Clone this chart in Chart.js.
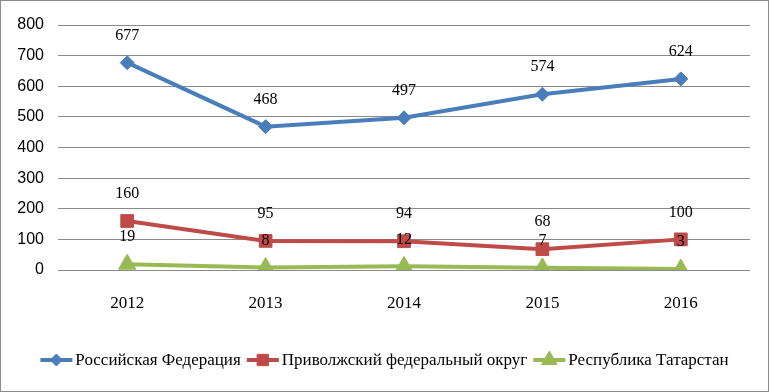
<!DOCTYPE html>
<html>
<head>
<meta charset="utf-8">
<script src="https://cdn.jsdelivr.net/npm/chart.js@4.4.0/dist/chart.umd.min.js"></script>
<style>
  html, body { margin: 0; padding: 0; background: #fff; }
  #wrap { width: 769px; height: 392px; position: relative; }
</style>
</head>
<body>
<div id="wrap"><canvas id="myChart" width="769" height="392"></canvas></div>
<script>
// data
const years = ['2012', '2013', '2014', '2015', '2016'];
const russia = [677, 468, 497, 574, 624];
const volga = [160, 95, 94, 68, 100];
const tatarstan = [19, 8, 12, 7, 3];
const seriesNames = ['Российская Федерация', 'Приволжский федеральный округ', 'Республика Татарстан'];

const blue = '#4a7ebb', red = '#be4b48', green = '#98b954';
const serif = "'Liberation Serif', 'Times New Roman', serif";

// value labels above each point
const valueLabels = {
  id: 'valueLabels',
  afterDatasetsDraw(chart) {
    const ctx = chart.ctx;
    ctx.save();
    ctx.font = '16px ' + serif;
    ctx.fillStyle = '#000';
    ctx.textAlign = 'center';
    ctx.textBaseline = 'middle';
    chart.data.datasets.forEach((ds, i) => {
      chart.getDatasetMeta(i).data.forEach((pt, j) => {
        ctx.fillText(ds.data[j], pt.x, pt.y - 27);
      });
    });
    ctx.restore();
  }
};

// legend with line + marker, and outer frame
const bottomLegend = {
  id: 'bottomLegend',
  afterDraw(chart) {
    const ctx = chart.ctx;
    ctx.save();
    ctx.strokeStyle = '#8c8c8c';
    ctx.lineWidth = 1;
    ctx.strokeRect(0.5, 0.5, chart.width - 1, chart.height - 1);

    ctx.font = '17px ' + serif;
    ctx.textBaseline = 'middle';
    ctx.textAlign = 'left';
    const y = 360;
    const lineW = 32, gap = 3, itemGap = 6;
    let total = 0;
    chart.data.datasets.forEach(ds => { total += lineW + gap + ctx.measureText(ds.label).width + itemGap; });
    total -= itemGap;
    let x = (chart.width - total) / 2;
    chart.data.datasets.forEach(ds => {
      ctx.strokeStyle = ds.borderColor;
      ctx.lineWidth = 4;
      ctx.beginPath();
      ctx.moveTo(x, y);
      ctx.lineTo(x + lineW, y);
      ctx.stroke();
      ctx.fillStyle = ds.backgroundColor;
      ctx.strokeStyle = ds.borderColor;
      ctx.lineWidth = 1;
      Chart.helpers.drawPoint(ctx, { pointStyle: ds.pointStyle, radius: ds.pointRadius - 1, borderWidth: 1 }, x + lineW / 2, y);
      ctx.fillStyle = '#000';
      ctx.fillText(ds.label, x + lineW + gap, y + 1);
      x += lineW + gap + ctx.measureText(ds.label).width + itemGap;
    });
    ctx.restore();
  }
};

const ctx = document.getElementById('myChart').getContext('2d');
const chart = new Chart(ctx, {
  type: 'line',
  data: {
    labels: years,
    datasets: [
      { label: seriesNames[0], data: russia, borderColor: blue, backgroundColor: blue,
        borderWidth: 4, pointStyle: 'rectRot', pointRadius: 7, pointBorderWidth: 1 },
      { label: seriesNames[1], data: volga, borderColor: red, backgroundColor: red,
        borderWidth: 4, pointStyle: 'rect', pointRadius: 9, pointBorderWidth: 1 },
      { label: seriesNames[2], data: tatarstan, borderColor: green, backgroundColor: green,
        borderWidth: 4, pointStyle: 'triangle', pointRadius: 10, pointBorderWidth: 1 }
    ]
  },
  options: {
    responsive: false,
    animation: false,
    layout: { padding: { left: 0, right: 19, top: 25, bottom: 77 } },
    plugins: {
      legend: { display: false },
      tooltip: { enabled: false }
    },
    scales: {
      x: {
        offset: true,
        grid: { display: false, drawTicks: false },
        border: { display: false },
        ticks: { color: '#000', padding: 23, font: { family: serif, size: 17 } },
        afterFit: s => { s.height = 45; }
      },
      y: {
        min: 0, max: 800,
        ticks: { stepSize: 100, color: '#000', padding: 14,
                 font: { family: "'Liberation Sans', Arial, sans-serif", size: 16 } },
        grid: { color: '#8a8a8a', lineWidth: 1, drawTicks: false },
        border: { display: false },
        afterFit: s => { s.width = 58; }
      }
    }
  },
  plugins: [valueLabels, bottomLegend]
});
</script>
</body>
</html>
